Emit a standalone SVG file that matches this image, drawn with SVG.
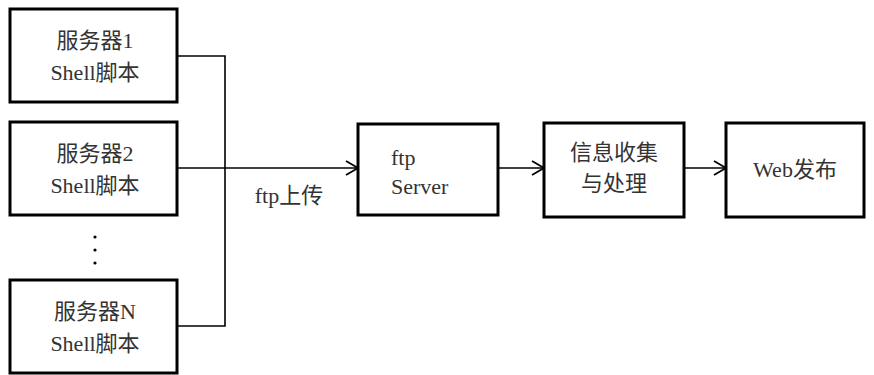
<svg xmlns="http://www.w3.org/2000/svg" width="874" height="375" viewBox="0 0 874 375">
<style>
.box{fill:#fff;stroke:#000;stroke-width:3}
.ln{fill:none;stroke:#000;stroke-width:1.6}
text{font-family:"Liberation Serif","Noto Sans CJK SC",serif;font-size:22px;fill:#333}
.c{text-anchor:middle}
</style>
<defs>
<marker id="arr" markerWidth="16" markerHeight="16" refX="14" refY="8" orient="auto" markerUnits="userSpaceOnUse">
<path d="M2,1 L14,8 L2,15" fill="none" stroke="#000" stroke-width="1.8"/>
</marker>
</defs>
<rect width="874" height="375" fill="#fff"/>
<g id="connectors">
<path class="ln" d="M177,56 H225 V326 H177"/>
<path class="ln" d="M177,168 H358" marker-end="url(#arr)"/>
<path class="ln" d="M498,168 H544" marker-end="url(#arr)"/>
<path class="ln" d="M684,168 H726" marker-end="url(#arr)"/>
<text x="289" y="203" class="c">ftp上传</text>
</g>
<g id="server1">
<rect class="box" x="10" y="9" width="167" height="93"/>
<text x="95" y="48" class="c">服务器1</text>
<text x="95" y="80" class="c">Shell脚本</text>
</g>
<g id="server2">
<rect class="box" x="10" y="122" width="167" height="93"/>
<text x="95" y="161" class="c">服务器2</text>
<text x="95" y="193" class="c">Shell脚本</text>
</g>
<g id="dots">
<circle cx="95" cy="237" r="1.6" fill="#000"/>
<circle cx="95" cy="250" r="1.6" fill="#000"/>
<circle cx="95" cy="263" r="1.6" fill="#000"/>
</g>
<g id="serverN">
<rect class="box" x="10" y="280" width="167" height="93"/>
<text x="95" y="319" class="c">服务器N</text>
<text x="95" y="351" class="c">Shell脚本</text>
</g>
<g id="ftpserver">
<rect class="box" x="358" y="124" width="140" height="91"/>
<text x="391" y="165">ftp</text>
<text x="391" y="194">Server</text>
</g>
<g id="collect">
<rect class="box" x="544" y="123" width="140" height="94"/>
<text x="614" y="160" class="c">信息收集</text>
<text x="614" y="191" class="c">与处理</text>
</g>
<g id="web">
<rect class="box" x="726" y="123" width="138" height="94"/>
<text x="795" y="177" class="c">Web发布</text>
</g>
</svg>
